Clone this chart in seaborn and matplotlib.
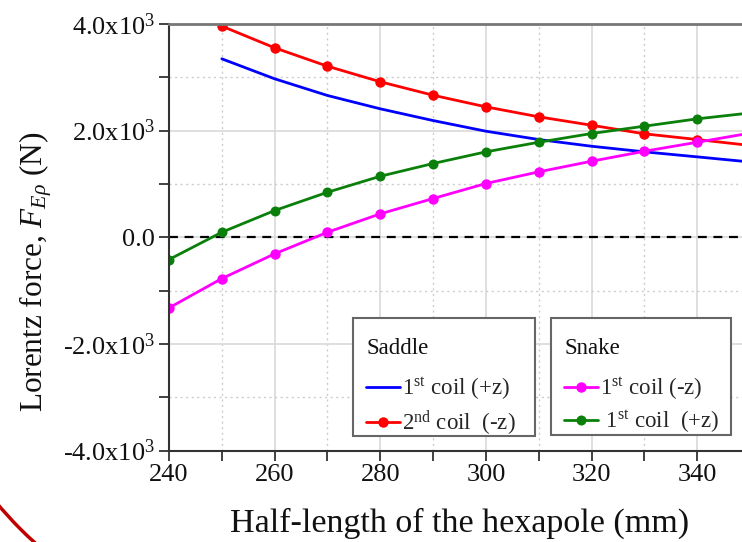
import numpy as np
import pandas as pd
import seaborn as sns
import matplotlib.pyplot as plt
from matplotlib.ticker import MultipleLocator
from matplotlib.patches import Arc, Rectangle

# half-length of the hexapole (mm)
half_length = [240, 250, 260, 270, 280, 290, 300, 310, 320, 330, 340, 350]
half_length_saddle = [250, 260, 270, 280, 290, 300, 310, 320, 330, 340, 350]

# Lorentz force (N)
saddle_1st_pz = [3347, 2972, 2659, 2409, 2189, 1989, 1833, 1707, 1602, 1508, 1412]
saddle_2nd_mz = [3960, 3553, 3208, 2916, 2664, 2446, 2259, 2101, 1940, 1833, 1722]
snake_1st_mz = [-1325, -775, -311, 94, 439, 726, 1008, 1227, 1426, 1613, 1782, 1953]
snake_1st_pz = [-418, 94, 501, 844, 1144, 1383, 1602, 1782, 1946, 2083, 2221, 2331]

x_ticks = [240, 260, 280, 300, 320, 340]
y_ticks = [-4000, -2000, 0, 2000, 4000]
y_tick_labels = ["-4.0x10$^3$", "-2.0x10$^3$", "0.0", "2.0x10$^3$", "4.0x10$^3$"]

sns.set_style("ticks")
plt.rcParams['font.family'] = ['Liberation Serif', 'DejaVu Serif']
plt.rcParams['mathtext.fontset'] = 'custom'
plt.rcParams['mathtext.rm'] = 'Liberation Serif'
plt.rcParams['mathtext.it'] = 'Liberation Serif:italic'
plt.rcParams['mathtext.bf'] = 'Liberation Serif:bold'

W, H = 742, 542
fig = plt.figure(figsize=(W / 100, H / 100), dpi=100)
# axes runs a bit past the right edge, the original picture is cropped there
ax = fig.add_axes([169 / W, 1 - 450.5 / H, 581 / W, 426.5 / H])

sns.lineplot(x=half_length_saddle, y=saddle_1st_pz, ax=ax, color='#0000ff', lw=2,
             label="1$^{\\mathrm{st}}$ coil (+z)")
sns.lineplot(x=half_length_saddle, y=saddle_2nd_mz, ax=ax, color='#ff0000', lw=2,
             marker='o', markersize=7.5, markeredgewidth=0,
             label="2$^{\\mathrm{nd}}$ coil  (-z)")
sns.lineplot(x=half_length, y=snake_1st_mz, ax=ax, color='#ff00ff', lw=2,
             marker='o', markersize=7.5, markeredgewidth=0,
             label="1$^{\\mathrm{st}}$ coil (-z)")
sns.lineplot(x=half_length, y=snake_1st_pz, ax=ax, color='#0a800a', lw=2,
             marker='o', markersize=7.2, markeredgewidth=0,
             label=" 1$^{\\mathrm{st}}$ coil  (+z)")

ax.axhline(0, color='black', ls=(0, (4, 3)), lw=1.6, zorder=1)

ax.set_xlim(240, 350)
ax.set_ylim(-4000, 4000)
ax.set_xticks(x_ticks)
ax.xaxis.set_minor_locator(MultipleLocator(10))
ax.set_yticks(y_ticks)
ax.set_yticklabels(y_tick_labels)
ax.yaxis.set_minor_locator(MultipleLocator(1000))

ax.grid(which='major', color='#dcdcdc', lw=1.3, ls='-')
ax.grid(which='minor', color='#cccccc', lw=1.0, ls=(0, (1.5, 2.5)))
ax.set_axisbelow(True)

ax.tick_params(which='both', direction='out', length=7, width=1.3, colors='#333333',
               labelcolor='#111111', labelsize=19, pad=3)
for side in ['left', 'bottom']:
    ax.spines[side].set_color('#333333')
    ax.spines[side].set_linewidth(1.5)
ax.spines['top'].set_color('#777777')
ax.spines['top'].set_linewidth(2)
ax.spines['right'].set_visible(False)

ax.set_xlabel("Half-length of the hexapole (mm)", fontsize=24.5, color='#111111', labelpad=15.5)
ax.set_ylabel("Lorentz force, $F_{E\\rho}$ (N)", fontsize=22.5, color='#111111')
ax.yaxis.set_label_coords(-0.198, 0.4185)

handles, labels = ax.get_legend_handles_labels()
if ax.get_legend() is not None:
    ax.get_legend().remove()

# two framed legend boxes: frame, title and entries placed separately
boxes = [
    ("Saddle", handles[:2], labels[:2], (353, 318, 535, 436)),
    ("Snake", handles[2:], labels[2:], (551, 318, 731, 435)),
]
for title, hs, ls, (x0, y0, x1, y1) in boxes:
    fig.add_artist(Rectangle((x0 / W, 1 - y1 / H), (x1 - x0) / W, (y1 - y0) / H,
                             transform=fig.transFigure, facecolor='white',
                             edgecolor='#666666', lw=1.5, zorder=2))
    fig.text((x0 + 14) / W, 1 - (y0 + 30) / H, title, fontsize=16.5, color='#111111',
             ha='left', va='center', zorder=3)
    fig.legend(hs, ls, loc='upper left', bbox_to_anchor=((x0 + 13) / W, 1 - (y0 + 58) / H),
               bbox_transform=fig.transFigure, frameon=False, borderpad=0,
               borderaxespad=0, fontsize=16.5, handlelength=1.5, handletextpad=0.08,
               labelspacing=0.26).set_zorder(4)

# red arc in the lower left corner of the picture
fig.add_artist(Arc((300 / W, 1 - 250 / H), 2 * 395 / W, 2 * 395 / H,
                   theta1=180, theta2=270, transform=fig.transFigure,
                   color='#c00000', lw=2.5))

fig.savefig('out.png', dpi=100)
